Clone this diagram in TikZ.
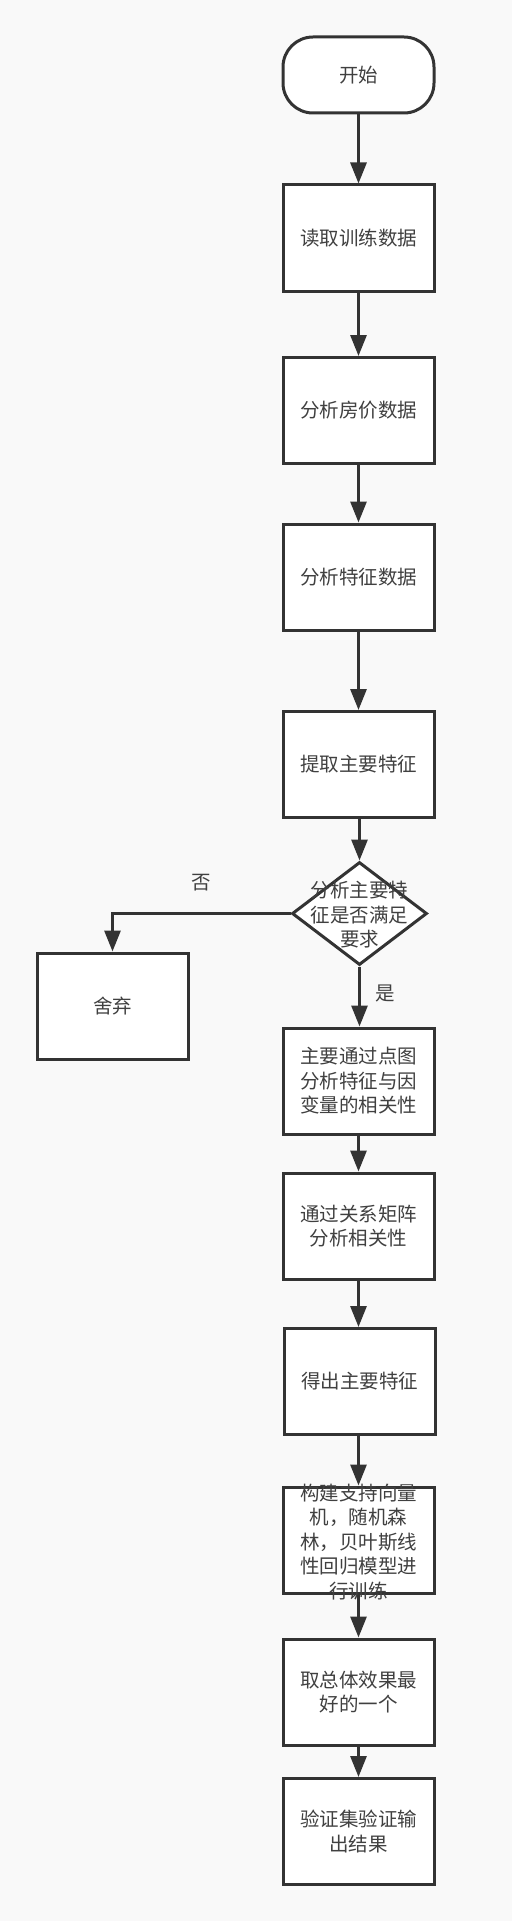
\documentclass[tikz,border=0pt]{standalone}
\usepackage{fontspec}
\setmainfont{Noto Sans CJK SC}
\usetikzlibrary{shapes.geometric,arrows.meta}
\definecolor{ln}{HTML}{333333}
\definecolor{tx}{HTML}{404040}
\definecolor{bg}{HTML}{F9F9F9}
\tikzset{
  txt/.style={align=center,text=tx,font=\fontsize{19.5pt}{24.5pt}\selectfont},
  box/.style={txt,draw=ln,line width=3pt,fill=white,minimum width=151pt,minimum height=106pt,inner sep=0pt},
  term/.style={box,minimum height=76pt,rounded corners=30pt},
  dec/.style={draw=ln,line width=3pt,fill=white,diamond,minimum width=135pt,minimum height=103pt,inner sep=0pt},
  arr/.style={draw=ln,line width=3pt,-{Triangle[length=21pt,width=16pt]}}
}
\begin{document}
\begin{tikzpicture}[x=1pt,y=-1pt]
\fill[bg] (0,0) rectangle (512,1921);
\useasboundingbox (0,0) rectangle (512,1921);
\node[term] (start) at (358.5,75) {开始};
\node[box] (b1) at (358.5,238) {读取训练数据};
\node[box] (b2) at (358.5,410.5) {分析房价数据};
\node[box] (b3) at (358.5,577) {分析特征数据};
\node[box] (b4) at (358.5,764.5) {提取主要特征};
\node[dec] (d) at (359.5,913.5) {};
\node[txt] (dt) at (359.5,915) {分析主要特\\征是否满足\\要求};
\node[box] (discard) at (112.5,1006) {舍弃};
\node[box] (b5) at (358.5,1081) {主要通过点图\\分析特征与因\\变量的相关性};
\node[box] (b6) at (358.5,1226) {通过关系矩阵\\分析相关性};
\node[box] (b7) at (359.5,1381.5) {得出主要特征};
\node[box] (b8) at (358.5,1540) {};
\node[txt] (b8t) at (358.5,1542) {构建支持向量\\机，随机森\\林，贝叶斯线\\性回归模型进\\行训练};
\node[box] (b9) at (358.5,1692) {取总体效果最\\好的一个};
\node[box] (b10) at (358.5,1831.5) {验证集验证输\\出结果};
\node[txt] (no) at (201,883) {否};
\node[txt] (yes) at (385,993) {是};
\draw[arr] (start) -- (b1);
\draw[arr] (b1) -- (b2);
\draw[arr] (b2) -- (b3);
\draw[arr] (b3) -- (b4);
\draw[arr] (d.north |- b4.south) -- (d.north);
\draw[arr] (d.west) -| (discard.north);
\draw[arr] (d.south) -- (b5.north -| d.south);
\draw[arr] (b5) -- (b6);
\draw[arr] (b6) -- (b7.north -| b6.south);
\draw[arr] (b7.south -| b8.north) -- (b8);
\draw[arr] (b8) -- (b9);
\draw[arr] (b9) -- (b10);
\end{tikzpicture}
\end{document}
